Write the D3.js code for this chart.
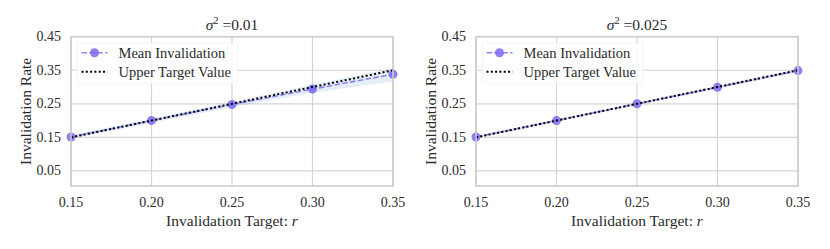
<!DOCTYPE html>
<html><head><meta charset="utf-8">
<script src="https://cdn.jsdelivr.net/npm/d3@7"></script>
<style>
body{margin:0;background:#fff;}
svg text{font-family:"Liberation Serif","DejaVu Serif",serif;}
</style></head>
<body><svg id="c" width="830" height="249" fill="#2b2b2b"></svg>
<script>
const targets = [0.15, 0.20, 0.25, 0.30, 0.35];
const upperTarget = [0.15, 0.20, 0.25, 0.30, 0.35];
const mean001 = [0.151, 0.200, 0.248, 0.294, 0.338];
const lo001 = [0.146, 0.193, 0.240, 0.283, 0.317];
const hi001 = [0.157, 0.206, 0.256, 0.307, 0.357];
const mean0025 = [0.151, 0.200, 0.250, 0.299, 0.349];
const lo0025 = [0.148, 0.197, 0.246, 0.295, 0.344];
const hi0025 = [0.154, 0.203, 0.254, 0.303, 0.354];
const xTicks = [0.15, 0.20, 0.25, 0.30, 0.35];
const yTicks = [0.05, 0.15, 0.25, 0.35, 0.45];
const titles = ["0.01", "0.025"];
const legendLabels = ["Mean Invalidation", "Upper Target Value"];

const panels = [
  {left: 71, mean: mean001, lo: lo001, hi: hi001, title: titles[0]},
  {left: 476, mean: mean0025, lo: lo0025, hi: hi0025, title: titles[1]}
];
const W = 322, plotTop = 36.7, plotBottom = 186;
const svg = d3.select("#c");
const purple = "#7b68ee";
const FS = 14, LFS = 14.5, LS = 15.5;

panels.forEach(p => {
  const g = svg.append("g");
  const x = d3.scaleLinear().domain([0.15, 0.35]).range([p.left, p.left + W]);
  const y = d3.scaleLinear().domain([0.005, 0.45]).range([plotBottom, plotTop]);
  g.selectAll(".gx").data(xTicks).join("line")
    .attr("x1", d => x(d)).attr("x2", d => x(d)).attr("y1", plotTop).attr("y2", plotBottom)
    .attr("stroke", "#d4d4d4").attr("stroke-width", 1.2);
  g.selectAll(".gy").data(yTicks).join("line")
    .attr("y1", d => y(d)).attr("y2", d => y(d)).attr("x1", p.left).attr("x2", p.left + W)
    .attr("stroke", "#d4d4d4").attr("stroke-width", 1.2);
  const idx = d3.range(targets.length);
  g.append("path").datum(idx)
    .attr("d", d3.area().x(i => x(targets[i])).y0(i => y(p.lo[i])).y1(i => y(p.hi[i])))
    .attr("fill", "#4a90d9").attr("fill-opacity", 0.15).attr("stroke", "none");
  g.append("path").datum(idx)
    .attr("d", d3.line().x(i => x(targets[i])).y(i => y(p.mean[i])))
    .attr("fill", "none").attr("stroke", purple).attr("stroke-opacity", 0.8)
    .attr("stroke-width", 1.6).attr("stroke-dasharray", "5.5,2.4");
  g.selectAll(".pt").data(idx).join("circle")
    .attr("cx", i => x(targets[i])).attr("cy", i => y(p.mean[i])).attr("r", 4.5)
    .attr("fill", purple).attr("fill-opacity", 0.85);
  g.append("path").datum(idx)
    .attr("d", d3.line().x(i => x(targets[i])).y(i => y(upperTarget[i])))
    .attr("fill", "none").attr("stroke", "#000").attr("stroke-width", 2)
    .attr("stroke-dasharray", "2,2.3");
  g.append("rect").attr("x", p.left).attr("y", plotTop).attr("width", W).attr("height", plotBottom - plotTop)
    .attr("fill", "none").attr("stroke", "#cccccc").attr("stroke-width", 1.6);
  g.selectAll(".tx").data(xTicks).join("text")
    .attr("x", d => x(d)).attr("y", 207).attr("text-anchor", "middle")
    .attr("font-size", FS).text(d => d3.format(".2f")(d));
  g.selectAll(".ty").data(yTicks).join("text")
    .attr("x", p.left - 10).attr("y", d => y(d) + 4.5).attr("text-anchor", "end")
    .attr("font-size", FS).text(d => d3.format(".2f")(d));
  const xl = g.append("text").attr("x", p.left + W / 2).attr("y", 226).attr("text-anchor", "middle")
    .attr("font-size", LS);
  xl.append("tspan").text("Invalidation Target: ");
  xl.append("tspan").attr("font-style", "italic").text("r");
  g.append("text").attr("transform", `translate(${p.left - 40},${(plotTop + plotBottom) / 2}) rotate(-90)`)
    .attr("text-anchor", "middle").attr("font-size", LS).text("Invalidation Rate");
  const t = g.append("text").attr("x", p.left + W / 2).attr("y", 29.5).attr("text-anchor", "middle")
    .attr("font-size", LS);
  t.append("tspan").attr("font-style", "italic").text("σ");
  t.append("tspan").attr("dy", -6).attr("font-size", 10.5).text("2");
  t.append("tspan").attr("dy", 6).text(" =" + p.title);
  const lg = g.append("g").attr("transform", `translate(${p.left + 6.5},${plotTop + 6})`);
  lg.append("rect").attr("width", 160).attr("height", 41).attr("rx", 2)
    .attr("fill", "#fff").attr("fill-opacity", 0.8).attr("stroke", "#f0f0f0").attr("stroke-width", 0.8);
  lg.append("line").attr("x1", 4).attr("x2", 30).attr("y1", 10).attr("y2", 10)
    .attr("stroke", purple).attr("stroke-opacity", 0.8).attr("stroke-width", 1.6).attr("stroke-dasharray", "5.5,2.4");
  lg.append("circle").attr("cx", 17).attr("cy", 10).attr("r", 4.5).attr("fill", purple).attr("fill-opacity", 0.85);
  lg.append("line").attr("x1", 4).attr("x2", 30).attr("y1", 29).attr("y2", 29)
    .attr("stroke", "#000").attr("stroke-width", 2).attr("stroke-dasharray", "2,2.3");
  lg.selectAll(".lt").data(legendLabels).join("text")
    .attr("x", 41).attr("y", (d, i) => 15 + i * 19).attr("font-size", LFS).text(d => d);
});
</script></body></html>
